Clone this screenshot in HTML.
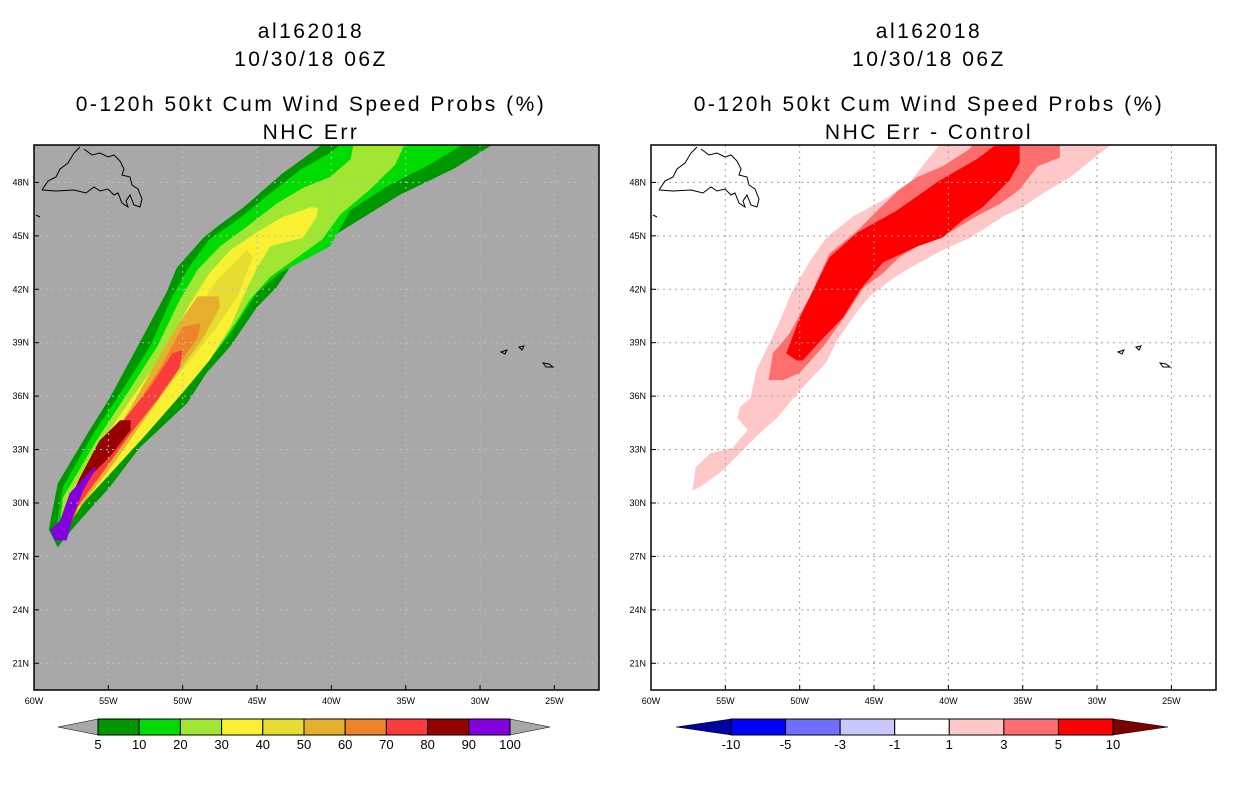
<!DOCTYPE html>
<html><head><meta charset="utf-8"><style>
body{margin:0;background:#fff;}
svg{display:block;font-family:"Liberation Sans",sans-serif;}
</style></head><body>
<svg id="root" width="1236" height="800" viewBox="0 0 1236 800"></svg>
<script>
const lonTicks=[60,55,50,45,40,35,30,25];
const latTicks=[48,45,42,39,36,33,30,27,24,21];
const levelsL=[5,10,20,30,40,50,60,70,80,90,100];
const colorsL=["#009600","#00dc00","#a0e632","#faf032","#e6dc32","#e6af2d","#f08228","#fa3c3c","#960000","#8200dc"];
const levelsR=["-10","-5","-3","-1","1","3","5","10"];
const colorsR=["#0000a0","#0000ff","#6e6eff","#c8c8ff","#ffffff","#ffc8c8","#ff6e6e","#ff0000"];
const c5=[[58.4,27.5],[59.0,28.5],[58.9,29.0],[58.4,31.1],[56.4,33.9],[54.9,35.9],[52.9,39.0],[51.1,41.8],[50.4,43.2],[48.6,44.9],[47.7,45.5],[45.9,46.6],[43.3,48.5],[40.8,50.0],[40.8,50.3],[29.2,50.3],[29.2,50.1],[31.7,48.8],[35.4,47.3],[38.7,45.6],[41.4,44.2],[42.8,43.2],[43.7,42.1],[45.0,41.0],[46.8,38.8],[48.4,37.3],[49.7,35.6],[52.9,33.1],[54.9,30.9],[57.1,28.85],[58.05,27.9]];
const c10=[[58.45,28.0],[58.45,28.85],[58.05,30.9],[56.0,33.9],[54.4,35.9],[52.2,38.8],[50.7,41.6],[49.7,43.1],[48.2,44.8],[46.3,45.9],[44.1,47.4],[42.1,48.7],[40.1,49.65],[39.1,50.3],[31.2,50.3],[31.2,50.1],[33.4,49.0],[36.1,47.85],[38.7,46.45],[40.1,44.4],[43.5,42.9],[45.0,41.8],[46.8,39.5],[48.6,37.6],[50.2,36.2],[53.3,33.9],[55.1,31.7],[57.4,29.2],[58.25,28.1]];
const c20=[[58.3,28.4],[58.05,30.3],[55.8,33.5],[54.0,35.8],[51.7,38.8],[50.2,41.4],[49.0,43.1],[47.5,44.4],[45.7,45.5],[43.7,46.8],[41.9,47.7],[40.1,48.3],[38.7,49.3],[38.5,50.3],[35.1,50.3],[35.1,50.1],[35.7,49.0],[37.4,47.6],[39.4,46.2],[40.6,44.8],[44.1,42.7],[45.5,41.4],[46.3,40.3],[47.7,38.6],[49.3,36.9],[51.3,35.0],[54.0,32.8],[56.0,30.7],[57.4,29.4],[58.1,28.5]];
const c30=[[58.1,28.6],[57.8,30.15],[55.4,33.5],[53.5,35.8],[51.3,38.4],[49.5,41.2],[48.2,42.9],[46.8,44.2],[45.0,45.2],[43.3,46.05],[41.4,46.6],[40.9,46.56],[41.0,46.05],[41.9,44.9],[44.1,44.4],[45.0,43.2],[45.7,42.0],[46.8,39.9],[48.2,38.0],[50.0,36.2],[52.4,33.9],[54.7,31.8],[56.7,30.0],[57.6,28.85],[58.0,28.5]];
const c40=[[45.7,44.2],[47.7,42.5],[49.7,39.9],[51.7,37.3],[54.0,34.5],[55.8,32.4],[57.1,30.55],[57.7,29.3],[57.4,29.4],[56.2,30.9],[54.0,33.5],[51.7,35.8],[49.5,38.0],[47.7,39.9],[46.3,41.6],[45.3,43.8]];
const c50=[[47.6,41.6],[49.0,41.6],[50.4,39.9],[52.2,37.3],[54.2,34.3],[56.0,32.0],[57.2,30.15],[56.9,29.8],[55.1,31.7],[52.9,34.3],[50.7,36.9],[48.6,39.3],[47.5,41.0]];
const c60=[[48.8,40.1],[50.0,39.9],[51.5,37.6],[53.5,35.0],[55.6,32.7],[54.2,33.1],[52.4,35.4],[50.4,37.6],[49.0,39.3]];
const c70=[[50.0,38.6],[50.7,38.4],[52.2,36.5],[54.7,33.9],[56.4,31.7],[57.6,30.0],[58.1,28.6],[57.8,28.3],[56.9,30.0],[55.4,31.7],[53.5,33.9],[51.7,35.8],[50.2,37.6]];
const c80=[[53.5,34.65],[54.2,34.65],[55.6,33.5],[56.9,31.45],[58.05,29.4],[58.25,28.75],[57.4,29.8],[56.0,31.7],[54.9,32.6],[53.5,34.1]];
const c90=[[58.6,27.9],[58.9,28.5],[58.25,29.0],[57.6,30.55],[56.0,32.0],[55.8,32.0],[56.7,30.7],[57.4,29.2],[57.8,27.9]];
const r1=[[57.2,30.7],[57.0,32.0],[56.0,32.8],[54.5,33.1],[53.5,34.1],[54.2,34.8],[54.0,35.4],[53.3,35.9],[52.9,37.5],[51.5,39.9],[50.5,41.9],[49.3,43.6],[48.2,44.9],[46.4,46.1],[44.4,47.0],[42.6,48.0],[41.0,49.7],[40.4,50.3],[29.1,50.3],[29.1,50.1],[30.3,49.3],[31.8,48.3],[33.6,47.4],[35.0,46.6],[36.3,46.1],[38.5,44.9],[40.4,44.2],[41.7,43.6],[42.8,43.1],[43.9,42.5],[45.3,41.6],[46.1,40.8],[47.5,39.1],[48.2,37.9],[50.0,36.3],[51.5,34.8],[52.7,33.9],[53.8,33.0],[55.2,31.8],[56.7,30.9]];
const r3=[[52.1,36.9],[51.8,38.4],[50.7,39.5],[49.3,41.6],[48.0,44.0],[46.1,45.3],[44.8,46.4],[43.3,47.6],[42.1,48.3],[40.4,48.9],[38.7,49.8],[38.1,50.3],[32.5,50.3],[32.5,49.4],[34.0,48.9],[35.2,47.6],[36.5,46.8],[38.1,46.1],[39.9,45.2],[41.7,44.6],[43.3,43.8],[44.4,42.9],[45.7,42.1],[47.1,40.3],[48.4,38.8],[50.0,37.3],[51.1,36.9]];
const r5=[[50.9,38.4],[50.0,40.4],[48.0,43.8],[46.1,45.2],[43.5,46.4],[40.6,48.1],[38.1,49.3],[36.5,50.3],[35.2,50.3],[35.2,49.1],[35.9,48.1],[37.7,46.6],[39.0,45.9],[40.4,44.9],[42.1,44.4],[44.4,43.5],[45.9,42.0],[47.1,40.4],[48.6,39.1],[49.8,38.0],[50.2,38.0]];

const NS="http://www.w3.org/2000/svg";
const root=document.getElementById('root');
function mk(tag,attrs,parent){const e=document.createElementNS(NS,tag);for(const k in attrs)e.setAttribute(k,attrs[k]);(parent||root).appendChild(e);return e;}
const PW=565,PH=545,T=145;
const lonMin=22.0,lonMax=60.0,latMin=19.5,latMax=50.1;
function xs(lon){return (lonMax-lon)/(lonMax-lonMin)*PW;}
function ys(lat){return (latMax-lat)/(latMax-latMin)*PH;}
function pts(a){return a.map(p=>xs(p[0]).toFixed(1)+','+ys(p[1]).toFixed(1)).join(' ');}

function title(cx,lines){lines.forEach((t,i)=>{const e=mk('text',{x:cx+1,y:[38,66,111,139][i],'text-anchor':'middle','font-size':21,'letter-spacing':2.5,fill:'#000'});e.textContent=t;});}
title(310,["al162018","10/30/18 06Z","0-120h 50kt Cum Wind Speed Probs (%)","NHC Err"]);
title(928,["al162018","10/30/18 06Z","0-120h 50kt Cum Wind Speed Probs (%)","NHC Err - Control"]);

function panel(left,bg,layers,gridCol,name){
  const g=mk('g',{transform:`translate(${left},${T})`});
  
  
  const cp=mk('clipPath',{id:'cp'+left},g);mk('rect',{x:0,y:0,width:PW,height:PH},cp);
  const inner=mk('g',{'clip-path':`url(#cp${left})`},g);
  mk('rect',{x:0,y:0,width:PW,height:PH,fill:bg},inner);
  layers.forEach(l=>{const p=mk('polygon',{points:pts(l[0]),fill:l[1]},inner);
    
    });
  lonTicks.forEach(lo=>{mk('line',{x1:xs(lo),x2:xs(lo),y1:0,y2:PH,stroke:gridCol,'stroke-width':1,'stroke-dasharray':'2,4'},inner);});
  latTicks.forEach(la=>{mk('line',{x1:0,x2:PW,y1:ys(la),y2:ys(la),stroke:gridCol,'stroke-width':1,'stroke-dasharray':'2,4'},inner);});
  const coast=mk('path',{d:'M8,45 L14,36 L22,32 L26,24 L34,18 L40,8 L46,2 M50,4 L58,10 L66,8 L74,12 L80,10 L86,16 L90,24 L88,30 L96,32 L98,40 L104,44 L108,54 L106,62 L100,60 L96,50 L92,56 L94,62 L88,58 L84,48 L80,50 L74,44 L66,46 L60,42 L52,48 L40,45 L22,46 L8,45 M2,70 L6,72',fill:'none',stroke:'#000','stroke-width':1},inner);
  
  
  const az=mk('path',{d:'M467,207 L473,205 L471,209 Z M485,202 L490,201 L488,205 Z M509,218 L515,219 L519,222 L512,222 Z',fill:'none',stroke:'#000','stroke-width':1},inner);
  
  
  mk('rect',{x:0,y:0,width:PW,height:PH,fill:'none',stroke:'#000','stroke-width':1.5},g);
  lonTicks.forEach(lo=>{mk('line',{x1:xs(lo),x2:xs(lo),y1:PH,y2:PH-5,stroke:'#000'},g);
    const t=mk('text',{x:xs(lo),y:PH+14,'text-anchor':'middle','font-size':9,fill:'#000'},g);t.textContent=lo+'W';
    });
  latTicks.forEach(la=>{mk('line',{x1:0,x2:5,y1:ys(la),y2:ys(la),stroke:'#000'},g);
    const t=mk('text',{x:-5,y:ys(la)+3,'text-anchor':'end','font-size':9,fill:'#000'},g);t.textContent=la+'N';
    });
}
panel(34,'#a8a8a8',[[c5,colorsL[0]],[c10,colorsL[1]],[c20,colorsL[2]],[c30,colorsL[3]],[c40,colorsL[4]],[c50,colorsL[5]],[c60,colorsL[6]],[c70,colorsL[7]],[c80,colorsL[8]],[c90,colorsL[9]]],'#bdbdbd','left-map-panel');
panel(651,'#ffffff',[[r1,colorsR[5]],[r3,colorsR[6]],[r5,colorsR[7]]],'#a0a0a0','right-map-panel');

function colorbar(x0,x1,tri,cols,labels,leftTri,rightTri,name){
  const g=mk('g',{});
  const y0=719,h=16,n=cols.length,w=(x1-x0)/n;
  mk('polygon',{points:`${x0-tri},${y0+h/2} ${x0},${y0} ${x0},${y0+h}`,fill:leftTri,stroke:'#000','stroke-width':0.5},g);
  mk('polygon',{points:`${x1+tri},${y0+h/2} ${x1},${y0} ${x1},${y0+h}`,fill:rightTri,stroke:'#000','stroke-width':0.5},g);
  cols.forEach((c,i)=>{const r=mk('rect',{x:x0+i*w,y:y0,width:w,height:h,fill:c,stroke:'#000','stroke-width':1},g);
    });
  labels.forEach((l,i)=>{const t=mk('text',{x:x0+i*w,y:y0+h+14,'text-anchor':'middle','font-size':13,fill:'#000'},g);t.textContent=l;
    });
}
colorbar(98,510,40,colorsL,levelsL,'#a8a8a8','#a8a8a8','left-colorbar');
colorbar(731,1113,55,colorsR.slice(1),levelsR,'#0000a0','#7a0000','right-colorbar');
</script>
</body></html>
